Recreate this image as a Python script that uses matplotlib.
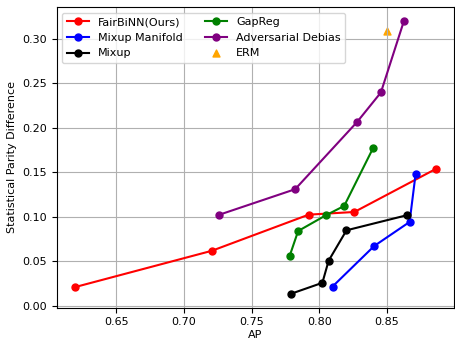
import matplotlib
matplotlib.use("Agg")
import matplotlib.pyplot as plt

# dados (AP, Statistical Parity Difference)
fairbinn_ap = [0.6195, 0.7207, 0.7922, 0.8259, 0.8862]
fairbinn_spd = [0.0211, 0.0620, 0.1026, 0.1056, 0.1541]

manifold_ap = [0.8098, 0.8405, 0.8667, 0.8711]
manifold_spd = [0.0218, 0.0673, 0.0944, 0.1480]

mixup_ap = [0.7788, 0.8023, 0.8069, 0.8201, 0.8645]
mixup_spd = [0.0135, 0.0260, 0.0508, 0.0850, 0.1019]

gapreg_ap = [0.7781, 0.7844, 0.8049, 0.8184, 0.8396]
gapreg_spd = [0.0560, 0.0842, 0.1019, 0.1124, 0.1770]

adv_ap = [0.7258, 0.7822, 0.8279, 0.8455, 0.8625]
adv_spd = [0.1023, 0.1312, 0.2067, 0.2399, 0.3203]

erm_ap = [0.850]
erm_spd = [0.309]

fig = plt.figure(figsize=(4.55, 3.41), dpi=100)
ms = 5
plt.plot(fairbinn_ap, fairbinn_spd, "o-", color="red", ms=ms, label="FairBiNN(Ours)")
plt.plot(manifold_ap, manifold_spd, "o-", color="blue", ms=ms, label="Mixup Manifold")
plt.plot(mixup_ap, mixup_spd, "o-", color="black", ms=ms, label="Mixup")
plt.plot(gapreg_ap, gapreg_spd, "o-", color="green", ms=ms, label="GapReg")
plt.plot(adv_ap, adv_spd, "o-", color="purple", ms=ms, label="Adversarial Debias")
plt.scatter(erm_ap, erm_spd, marker="^", color="orange", s=25, label="ERM")
plt.xlabel("AP", fontsize=8, labelpad=2)
plt.ylabel("Statistical Parity Difference", fontsize=8)
plt.tick_params(labelsize=8)
plt.grid(True)
plt.legend(ncol=2, loc="upper left", fontsize=8)
plt.subplots_adjust(left=0.1246, right=0.998, top=0.9786, bottom=0.098)
plt.savefig("out.png")
